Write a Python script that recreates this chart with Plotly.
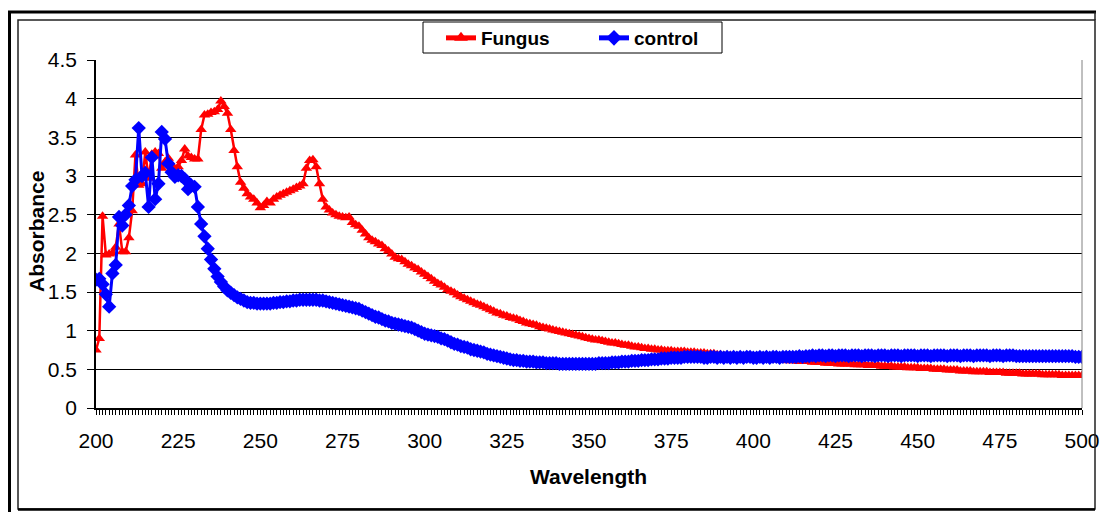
import plotly.graph_objects as go

# Wavelength (nm), one reading per nanometre
wavelength = list(range(200, 501))

# Absorbance of the fungus-treated sample
fungus = [
    0.75, 0.90, 2.48, 1.98, 1.99, 2.00, 2.08, 2.38, 2.02, 2.02,  # 200
    2.20, 2.55, 3.27, 2.88, 2.90, 3.31, 2.97, 3.28, 3.31, 3.29,  # 210
    3.10, 3.18, 3.23, 3.15, 3.08, 3.12, 3.20, 3.35, 3.26, 3.24,  # 220
    3.22, 3.22, 3.60, 3.79, 3.80, 3.82, 3.83, 3.86, 3.97, 3.90,  # 230
    3.81, 3.60, 3.33, 3.12, 2.92, 2.84, 2.77, 2.73, 2.70, 2.65,  # 240
    2.59, 2.62, 2.67, 2.65, 2.70, 2.73, 2.75, 2.77, 2.79, 2.81,  # 250
    2.83, 2.85, 2.87, 2.90, 3.10, 3.20, 3.21, 3.12, 2.90, 2.70,  # 260
    2.60, 2.56, 2.52, 2.50, 2.48, 2.47, 2.46, 2.47, 2.40, 2.37,  # 270
    2.35, 2.30, 2.25, 2.20, 2.17, 2.15, 2.12, 2.10, 2.06, 2.03,  # 280
    1.99, 1.95, 1.93, 1.92, 1.89, 1.86, 1.84, 1.81, 1.79, 1.76,  # 290
    1.73, 1.70, 1.67, 1.64, 1.61, 1.59, 1.56, 1.53, 1.51, 1.49,  # 300
    1.46, 1.44, 1.42, 1.40, 1.38, 1.36, 1.34, 1.33, 1.31, 1.29,  # 310
    1.27, 1.25, 1.23, 1.22, 1.20, 1.19, 1.17, 1.16, 1.15, 1.13,  # 320
    1.12, 1.10, 1.09, 1.08, 1.07, 1.05, 1.04, 1.03, 1.02, 1.01,  # 330
    1.00, 0.99, 0.98, 0.97, 0.96, 0.95, 0.94, 0.93, 0.92, 0.91,  # 340
    0.90, 0.89, 0.88, 0.88, 0.87, 0.86, 0.85, 0.84, 0.84, 0.83,  # 350
    0.82, 0.81, 0.81, 0.80, 0.79, 0.79, 0.78, 0.77, 0.77, 0.76,  # 360
    0.76, 0.75, 0.75, 0.74, 0.74, 0.74, 0.73, 0.73, 0.73, 0.73,  # 370
    0.72, 0.72, 0.72, 0.71, 0.71, 0.71, 0.70, 0.70, 0.70, 0.69,  # 380
    0.69, 0.68, 0.68, 0.68, 0.67, 0.67, 0.66, 0.66, 0.66, 0.65,  # 390
    0.65, 0.65, 0.64, 0.64, 0.64, 0.63, 0.63, 0.63, 0.62, 0.62,  # 400
    0.62, 0.61, 0.61, 0.61, 0.60, 0.60, 0.60, 0.60, 0.59, 0.59,  # 410
    0.59, 0.59, 0.58, 0.58, 0.58, 0.58, 0.57, 0.57, 0.57, 0.57,  # 420
    0.57, 0.56, 0.56, 0.56, 0.56, 0.55, 0.55, 0.55, 0.55, 0.54,  # 430
    0.54, 0.54, 0.54, 0.53, 0.53, 0.53, 0.53, 0.52, 0.52, 0.52,  # 440
    0.52, 0.51, 0.51, 0.51, 0.51, 0.50, 0.50, 0.50, 0.50, 0.49,  # 450
    0.49, 0.49, 0.49, 0.48, 0.48, 0.48, 0.48, 0.47, 0.47, 0.47,  # 460
    0.47, 0.47, 0.46, 0.46, 0.46, 0.46, 0.46, 0.45, 0.45, 0.45,  # 470
    0.45, 0.45, 0.44, 0.44, 0.44, 0.44, 0.44, 0.44, 0.43, 0.43,  # 480
    0.43, 0.43, 0.43, 0.43, 0.42, 0.42, 0.42, 0.42, 0.42, 0.42,  # 490
    0.42,                                                        # 500
]

# Absorbance of the untreated control
control = [
    1.66, 1.67, 1.60, 1.47, 1.31, 1.74, 1.85, 2.47, 2.36, 2.50,  # 200
    2.62, 2.87, 2.95, 3.62, 3.00, 3.04, 2.60, 3.24, 2.70, 2.90,  # 210
    3.57, 3.48, 3.16, 3.05, 2.99, 3.01, 3.00, 2.96, 2.83, 2.88,  # 220
    2.86, 2.60, 2.38, 2.22, 2.06, 1.92, 1.80, 1.70, 1.63, 1.57,  # 230
    1.52, 1.49, 1.46, 1.43, 1.41, 1.39, 1.37, 1.36, 1.36, 1.35,  # 240
    1.35, 1.35, 1.35, 1.35, 1.36, 1.36, 1.37, 1.37, 1.38, 1.38,  # 250
    1.39, 1.39, 1.40, 1.40, 1.40, 1.40, 1.40, 1.40, 1.39, 1.39,  # 260
    1.38, 1.37, 1.36, 1.35, 1.34, 1.33, 1.32, 1.31, 1.30, 1.29,  # 270
    1.28, 1.26, 1.24, 1.22, 1.20, 1.18, 1.17, 1.15, 1.13, 1.12,  # 280
    1.10, 1.09, 1.08, 1.07, 1.06, 1.05, 1.04, 1.02, 1.00, 0.98,  # 290
    0.96, 0.95, 0.94, 0.93, 0.92, 0.90, 0.89, 0.87, 0.85, 0.83,  # 300
    0.82, 0.80, 0.79, 0.78, 0.76, 0.75, 0.74, 0.73, 0.72, 0.70,  # 310
    0.69, 0.68, 0.67, 0.66, 0.65, 0.64, 0.63, 0.62, 0.62, 0.61,  # 320
    0.61, 0.60, 0.60, 0.60, 0.59, 0.59, 0.59, 0.58, 0.58, 0.58,  # 330
    0.58, 0.57, 0.57, 0.57, 0.57, 0.57, 0.57, 0.57, 0.57, 0.57,  # 340
    0.57, 0.57, 0.57, 0.58, 0.58, 0.58, 0.58, 0.59, 0.59, 0.59,  # 350
    0.60, 0.60, 0.60, 0.61, 0.61, 0.61, 0.62, 0.62, 0.62, 0.63,  # 360
    0.63, 0.63, 0.64, 0.64, 0.64, 0.65, 0.65, 0.65, 0.65, 0.66,  # 370
    0.66, 0.66, 0.66, 0.66, 0.66, 0.65, 0.65, 0.66, 0.66, 0.65,  # 380
    0.66, 0.65, 0.66, 0.65, 0.66, 0.65, 0.66, 0.65, 0.66, 0.66,  # 390
    0.65, 0.65, 0.66, 0.65, 0.66, 0.65, 0.66, 0.66, 0.65, 0.66,  # 400
    0.66, 0.66, 0.66, 0.66, 0.67, 0.66, 0.67, 0.67, 0.68, 0.67,  # 410
    0.68, 0.68, 0.67, 0.68, 0.68, 0.67, 0.68, 0.68, 0.68, 0.67,  # 420
    0.68, 0.68, 0.68, 0.67, 0.68, 0.68, 0.68, 0.67, 0.68, 0.68,  # 430
    0.68, 0.67, 0.68, 0.68, 0.68, 0.67, 0.68, 0.68, 0.68, 0.68,  # 440
    0.67, 0.68, 0.68, 0.68, 0.67, 0.68, 0.68, 0.68, 0.68, 0.67,  # 450
    0.68, 0.68, 0.68, 0.67, 0.68, 0.68, 0.68, 0.67, 0.68, 0.68,  # 460
    0.68, 0.68, 0.67, 0.68, 0.68, 0.68, 0.67, 0.68, 0.68, 0.68,  # 470
    0.67, 0.67, 0.67, 0.67, 0.67, 0.67, 0.67, 0.67, 0.67, 0.67,  # 480
    0.67, 0.67, 0.67, 0.67, 0.67, 0.67, 0.67, 0.67, 0.66, 0.66,  # 490
    0.66,                                                        # 500
]

x_ticks = [200, 225, 250, 275, 300, 325, 350, 375, 400, 425, 450, 475, 500]
y_ticks = [0, 0.5, 1, 1.5, 2, 2.5, 3, 3.5, 4, 4.5]

W, H = 1105, 512
L, R, T, B = 96, 1082, 60, 408  # plot-area edges in pixels
FONT = "Liberation Sans, Arial, sans-serif"


def px(xp):
    return (xp - L) / (R - L)


def py(yp):
    return (B - yp) / (B - T)


fig = go.Figure()
fig.add_trace(go.Scatter(
    x=wavelength, y=fungus, name="Fungus", mode="lines+markers",
    line=dict(color="#FF0000", width=2.5),
    marker=dict(symbol="triangle-up", size=10, color="#FF0000"),
))
fig.add_trace(go.Scatter(
    x=wavelength, y=control, name="control", mode="lines+markers",
    line=dict(color="#0000FF", width=3),
    marker=dict(symbol="diamond", size=11, color="#0000FF"),
))

shapes = [
    # outer frame (heavy) and inner frame (thin)
    dict(type="line", xref="paper", yref="paper", x0=px(9.5), x1=px(9.5),
         y0=py(11), y1=py(514), line=dict(color="black", width=3)),
    dict(type="line", xref="paper", yref="paper", x0=px(8), x1=px(1096),
         y0=py(12), y1=py(12), line=dict(color="black", width=3)),
    dict(type="rect", xref="paper", yref="paper", x0=px(18), x1=px(1095),
         y0=py(20), y1=py(509), line=dict(color="#222222", width=1.5)),
    dict(type="line", xref="paper", yref="paper", x0=px(1095), x1=px(1095),
         y0=py(12), y1=py(20), line=dict(color="#222222", width=1.5)),
    dict(type="line", xref="paper", yref="paper", x0=px(18), x1=px(1095),
         y0=py(509.5), y1=py(509.5), line=dict(color="black", width=2.5)),
    # right edge of the plot area
    dict(type="line", xref="paper", yref="paper", x0=1, x1=1, y0=0, y1=1,
         line=dict(color="#808080", width=1)),
    # legend box
    dict(type="rect", xref="paper", yref="paper", x0=px(423), x1=px(722),
         y0=py(22), y1=py(53), line=dict(color="black", width=1),
         fillcolor="white", layer="below"),
]

annotations = [
    dict(text="<b>Wavelength</b>", xref="paper", yref="paper",
         x=px(588), y=py(476), xanchor="center", yanchor="middle",
         showarrow=False, font=dict(family=FONT, size=21, color="black")),
    dict(text="<b>Absorbance</b>", xref="paper", yref="paper",
         x=px(37), y=py(232), xanchor="center", yanchor="middle",
         textangle=-90, showarrow=False,
         font=dict(family=FONT, size=21, color="black")),
]

fig.update_layout(
    width=W, height=H,
    margin=dict(l=L, r=W - R, t=T, b=H - B, pad=0, autoexpand=False),
    paper_bgcolor="white", plot_bgcolor="white",
    font=dict(family=FONT, size=21, color="black"),
    showlegend=True,
    legend=dict(
        orientation="h", x=px(441), xanchor="left", y=py(19), yanchor="top",
        borderwidth=0, bgcolor="rgba(0,0,0,0)",
        font=dict(family=FONT, size=19, color="black", weight="bold"),
        itemsizing="constant", tracegroupgap=0, entrywidth=108,
    ),
    shapes=shapes,
    annotations=annotations,
)

fig.update_xaxes(
    range=[200, 500], tickmode="array", tickvals=x_ticks,
    ticktext=[str(v) for v in x_ticks],
    showgrid=False, zeroline=False, automargin=False,
    showline=True, linecolor="black", linewidth=1.5,
    ticks="outside", ticklen=5, tickcolor="black", tickwidth=1,
    ticklabelstandoff=8,
    minor=dict(dtick=1, tick0=200, ticks="outside", ticklen=5,
               tickcolor="black", tickwidth=1, showgrid=False),
    tickfont=dict(family=FONT, size=21),
)

fig.update_yaxes(
    range=[0, 4.5], tickmode="array", tickvals=y_ticks,
    ticktext=[f"{v:g}" for v in y_ticks],
    showgrid=True, gridcolor="black", gridwidth=1,
    zeroline=False, automargin=False,
    showline=True, linecolor="black", linewidth=1.5,
    ticks="outside", ticklen=7, tickcolor="black", tickwidth=1,
    ticklabelstandoff=6,
    tickfont=dict(family=FONT, size=21),
)

fig.write_html("out.html")
